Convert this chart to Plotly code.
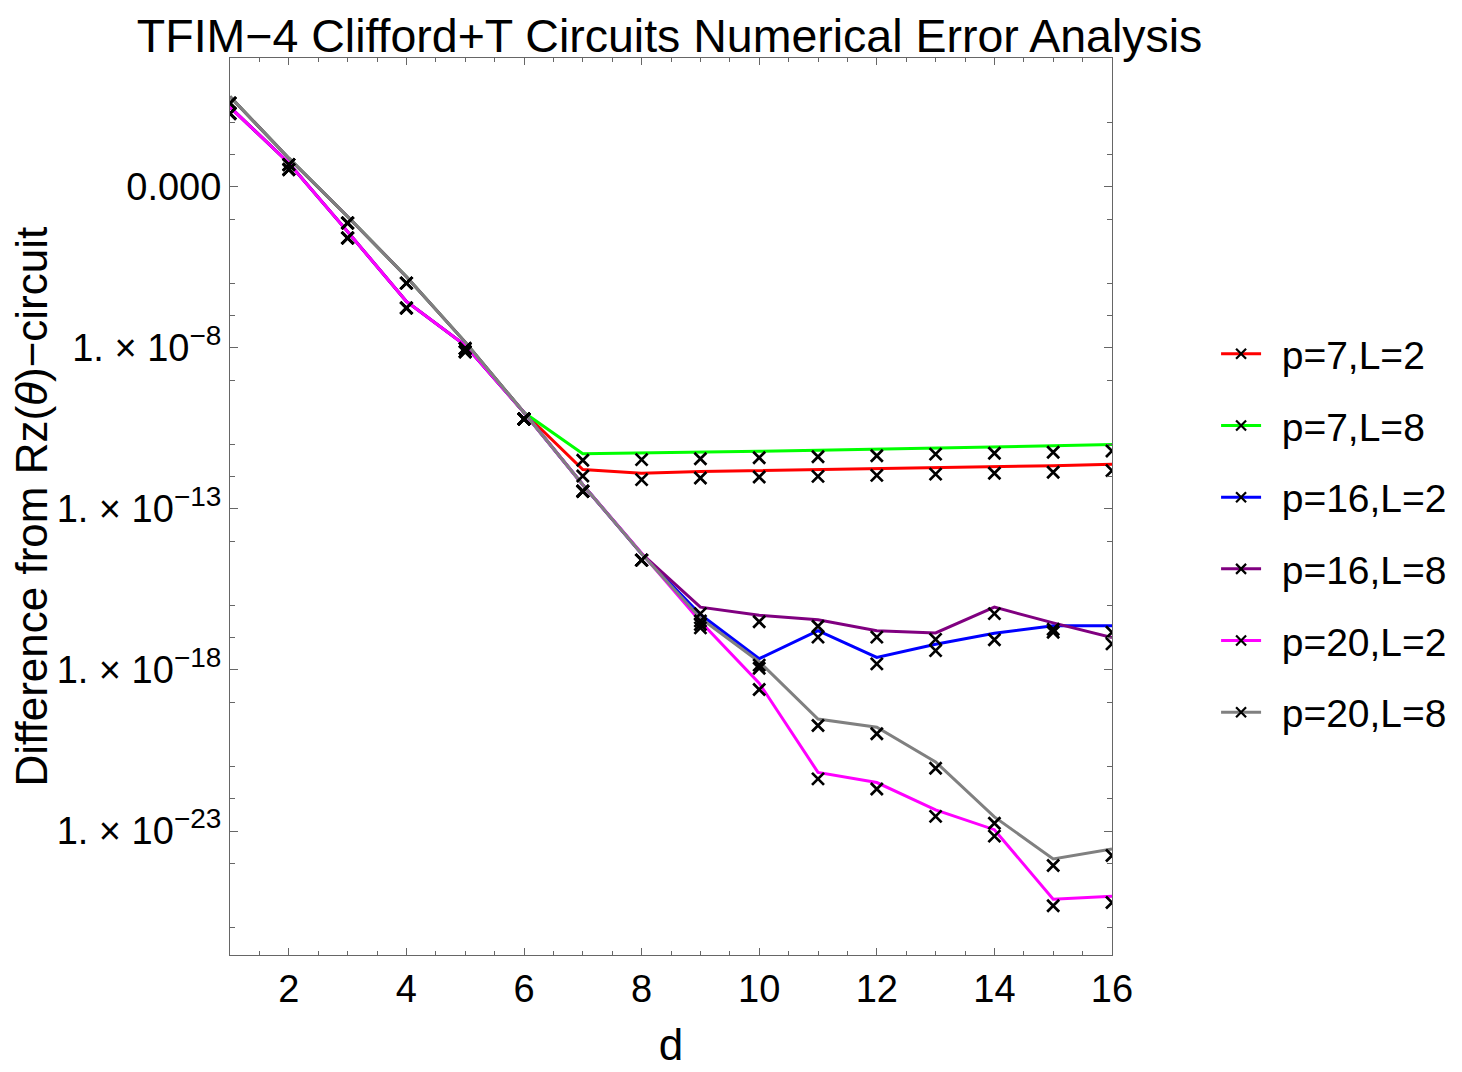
import plotly.graph_objects as go

# circuit depth d
d = list(range(1, 17))

names = ["p=7,L=2", "p=7,L=8", "p=16,L=2", "p=16,L=8", "p=20,L=2", "p=20,L=8"]
colors = ["#ff0000", "#00ff00", "#0000ff", "#800080", "#ff00ff", "#808080"]

# difference from the Rz(theta) circuit
err_p7_L2 = [2.99e-1, 5.50e-3, 4.07e-5, 2.75e-7, 1.20e-8, 9.8e-11,
             1.66e-12, 1.29e-12, 1.45e-12, 1.55e-12, 1.62e-12, 1.74e-12,
             1.91e-12, 2.04e-12, 2.19e-12, 2.45e-12]
err_p7_L8 = [6.31e-1, 7.76e-3, 1.20e-4, 1.62e-6, 1.51e-8, 9.8e-11,
             5.13e-12, 5.37e-12, 5.75e-12, 6.17e-12, 6.61e-12, 7.08e-12,
             7.94e-12, 8.51e-12, 9.12e-12, 1.00e-11]
err_p16_L2 = [2.99e-1, 5.50e-3, 4.07e-5, 2.75e-7, 1.20e-8, 9.8e-11,
              5.62e-13, 4.07e-15, 5.25e-17, 2.24e-18, 1.66e-17, 2.45e-18,
              6.3e-18, 1.38e-17, 2.34e-17, 2.34e-17]
err_p16_L8 = [6.31e-1, 7.76e-3, 1.20e-4, 1.62e-6, 1.51e-8, 9.8e-11,
              5.62e-13, 4.07e-15, 8.9e-17, 5.0e-17, 3.6e-17, 1.66e-17,
              1.41e-17, 8.9e-17, 2.9e-17, 1.02e-17]
err_p20_L2 = [2.99e-1, 5.50e-3, 4.07e-5, 2.75e-7, 1.20e-8, 9.8e-11,
              5.62e-13, 4.07e-15, 3.2e-17, 3.9e-19, 6.6e-22, 3.2e-22,
              4.5e-23, 1.1e-23, 7.6e-26, 9.5e-26]
err_p20_L8 = [6.31e-1, 7.76e-3, 1.20e-4, 1.62e-6, 1.51e-8, 9.8e-11,
              5.62e-13, 4.07e-15, 4.1e-17, 1.8e-18, 3.0e-20, 1.66e-20,
              1.4e-21, 2.75e-23, 1.35e-24, 2.75e-24]

series = [err_p7_L2, err_p7_L8, err_p16_L2, err_p16_L8, err_p20_L2, err_p20_L8]

ytick_vals = [1e-3, 1e-8, 1e-13, 1e-18, 1e-23]
ytick_exps = ["−8", "−13", "−18", "−23"]
SUP = '<sup><span style="font-size:28px">%s</span></sup>'
ytick_text = ["0.000"] + ["1. × 10" + SUP % e for e in ytick_exps]

FONT = "Liberation Sans, Arial, sans-serif"
FRAME = "#666666"

# log10 range of the frame; the "×" glyphs sit a little below the points
y_lo, y_hi = -26.85, 1.0
marker_drop = 0.2

fig = go.Figure()

for name, color, vals in zip(names, colors, series):
    fig.add_trace(go.Scatter(
        x=d, y=vals, mode="lines",
        line=dict(color=color, width=3),
        legendgroup=name, showlegend=False, name=name
    ))

for name, vals in zip(names, series):
    fig.add_trace(go.Scatter(
        x=d, y=vals, mode="markers", yaxis="y2",
        marker=dict(symbol="x-thin", size=12, color="black",
                    line=dict(width=2.7, color="black")),
        legendgroup=name, showlegend=False, name=name, hoverinfo="skip"
    ))

# legend entries: coloured line with a black cross
for name, color in zip(names, colors):
    fig.add_trace(go.Scatter(
        x=[None], y=[None], mode="lines+markers", name="\u2009\u2009" + name,
        line=dict(color=color, width=3),
        marker=dict(symbol="x-thin", size=10, color="black",
                    line=dict(width=2.2, color="black")),
        legendgroup=name
    ))

# the page body has an 8px margin, so the figure is 8px smaller than the window
fig.update_layout(
    width=1454, height=1064,
    margin=dict(l=222, r=350, t=50, b=117, autoexpand=False),
    paper_bgcolor="white", plot_bgcolor="white",
    font=dict(family=FONT, color="black", size=38),
    title=dict(text="TFIM−4 Clifford+T Circuits Numerical Error Analysis",
               x=0.455, xanchor="center", y=0.974, yanchor="middle",
               font=dict(size=46.5)),
    xaxis=dict(
        range=[1, 16], tick0=0, dtick=2,
        ticks="inside", ticklen=7, tickwidth=1, tickcolor=FRAME,
        minor=dict(dtick=0.5, tick0=0, ticks="inside", ticklen=4,
                   tickwidth=1, tickcolor=FRAME),
        showline=True, linecolor=FRAME, linewidth=1, mirror="ticks",
        showgrid=False, zeroline=False,
        tickfont=dict(size=38),
        title=dict(text="d", font=dict(size=44), standoff=20)
    ),
    yaxis=dict(
        type="log", range=[y_lo, y_hi],
        tickmode="array", tickvals=ytick_vals, ticktext=ytick_text,
        ticks="inside", ticklen=8, tickwidth=1, tickcolor=FRAME,
        minor=dict(tickmode="array",
                   tickvals=[10.0 ** k for k in range(-26, 1) if k % 5 not in (0, 2)],
                   ticks="inside", ticklen=5, tickwidth=1, tickcolor=FRAME),
        showline=True, linecolor=FRAME, linewidth=1, mirror="ticks",
        showgrid=False, zeroline=False,
        tickfont=dict(size=38)
    ),
    yaxis2=dict(
        type="log", overlaying="y",
        range=[y_lo + marker_drop, y_hi + marker_drop],
        visible=False
    ),
    legend=dict(
        x=1.118, xanchor="left", y=0.47, yanchor="middle",
        traceorder="grouped", tracegroupgap=18, itemwidth=40,
        font=dict(size=39), bgcolor="rgba(0,0,0,0)"
    ),
    showlegend=True
)

# y-axis title as a rotated annotation so it stays put at the far left
fig.add_annotation(
    text="Difference from Rz(<i>θ</i>)−circuit",
    xref="paper", yref="paper", x=-0.2256, y=0.5,
    xanchor="center", yanchor="middle", textangle=-90,
    showarrow=False, font=dict(size=44)
)

fig.write_html("out.html")
